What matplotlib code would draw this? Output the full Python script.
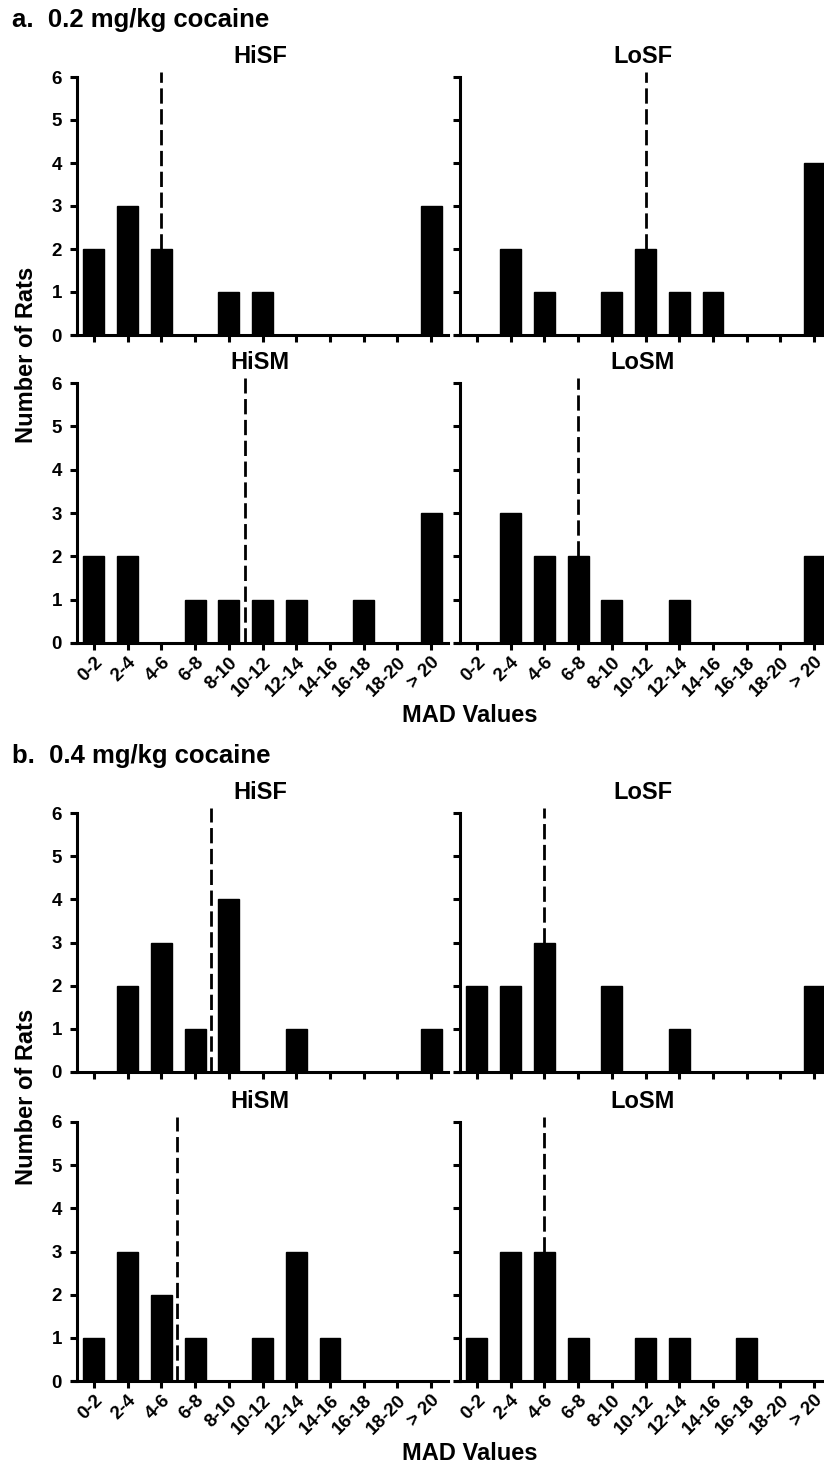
import numpy as np
import matplotlib
matplotlib.use('Agg')
from matplotlib import pyplot as plt

plt.rcParams['font.family'] = ['Liberation Sans', 'DejaVu Sans']
plt.rcParams['font.weight'] = 'bold'

bins = ['0-2', '2-4', '4-6', '6-8', '8-10', '10-12', '12-14',
        '14-16', '16-18', '18-20', '> 20']

# section a: 0.2 mg/kg
a_hisf = [2, 3, 2, 0, 1, 1, 0, 0, 0, 0, 3]
a_losf = [0, 2, 1, 0, 1, 2, 1, 1, 0, 0, 4]
a_hism = [2, 2, 0, 1, 1, 1, 1, 0, 1, 0, 3]
a_losm = [0, 3, 2, 2, 1, 0, 1, 0, 0, 0, 2]
# section b: 0.4 mg/kg
b_hisf = [0, 2, 3, 1, 4, 0, 1, 0, 0, 0, 1]
b_losf = [2, 2, 3, 0, 2, 0, 1, 0, 0, 0, 2]
b_hism = [1, 3, 2, 1, 0, 1, 3, 1, 0, 0, 0]
b_losm = [1, 3, 3, 1, 0, 1, 1, 0, 1, 0, 0]

# median position (in bin units) for the dashed line
a_median = [2, 5, 4.47, 3]
b_median = [3.47, 2, 2.47, 2]

names = ['HiSF', 'LoSF', 'HiSM', 'LoSM']
sections = [
    ('a.  0.2 mg/kg cocaine', [a_hisf, a_losf, a_hism, a_losm], a_median),
    ('b.  0.4 mg/kg cocaine', [b_hisf, b_losf, b_hism, b_losm], b_median),
]

fig = plt.figure(figsize=(8.24, 14.65), dpi=100)
W, H = 824.0, 1465.0

# pixel layout: x0 of left/right axes, (zero line y, top y) per row
col_x = [72, 455]
ax_w = 376
rows = [[(335, 77), (643, 383)], [(1072, 813), (1381, 1122)]]
title_y = [27, 763]
ylab_y = [355, 1097]
xlab_y = [716, 1453]

x = np.arange(len(bins))

for s, (stitle, counts, medians) in enumerate(sections):
    fig.text(12 / W, 1 - title_y[s] / H, stitle, fontsize=18.5,
             fontweight='bold', ha='left', va='baseline')
    fig.text(27 / W, 1 - ylab_y[s] / H, 'Number of Rats', fontsize=17,
             fontweight='bold', rotation=90, ha='center', va='center')
    fig.text(470 / W, 1 - xlab_y[s] / H, 'MAD Values', fontsize=17,
             fontweight='bold', ha='center', va='center')
    for i in range(4):
        r, c = i // 2, i % 2
        y0, y1 = rows[s][r]
        ax = fig.add_axes([col_x[c] / W, 1 - y0 / H, ax_w / W, (y0 - y1) / H])
        ax.bar(x, counts[i], width=0.62, color='black', edgecolor='black')
        m = medians[i]
        if float(m).is_integer():
            ybot = counts[i][int(m)]
        else:
            ybot = 0
        ax.plot([m, m], [ybot, 6.12], color='black', lw=2,
                linestyle=(0, (5.5, 2)), clip_on=False, zorder=3)
        ax.set_xlim(-0.65, 10.5)
        ax.set_ylim(0, 6)
        ax.spines['left'].set_position(('data', -0.5))
        ax.spines['right'].set_visible(False)
        ax.spines['top'].set_visible(False)
        ax.spines['left'].set_linewidth(2.2)
        ax.spines['bottom'].set_linewidth(2.2)
        ax.tick_params(direction='out', length=5, width=2.2, labelsize=13.5)
        ax.set_yticks(range(7))
        ax.set_xticks(x)
        ax.set_title(names[i], fontsize=17, fontweight='bold', pad=10)
        if r == 1:
            ax.set_xticklabels(bins, rotation=45, ha='right',
                               rotation_mode='anchor', fontweight='bold')
            ax.tick_params(axis='x', pad=3)
        else:
            ax.set_xticklabels([])
        if c == 0:
            ax.set_yticklabels([str(v) for v in range(7)], fontweight='bold')
            ax.tick_params(axis='y', pad=6)
        else:
            ax.set_yticklabels([])

fig.savefig('out.png', dpi=100)
